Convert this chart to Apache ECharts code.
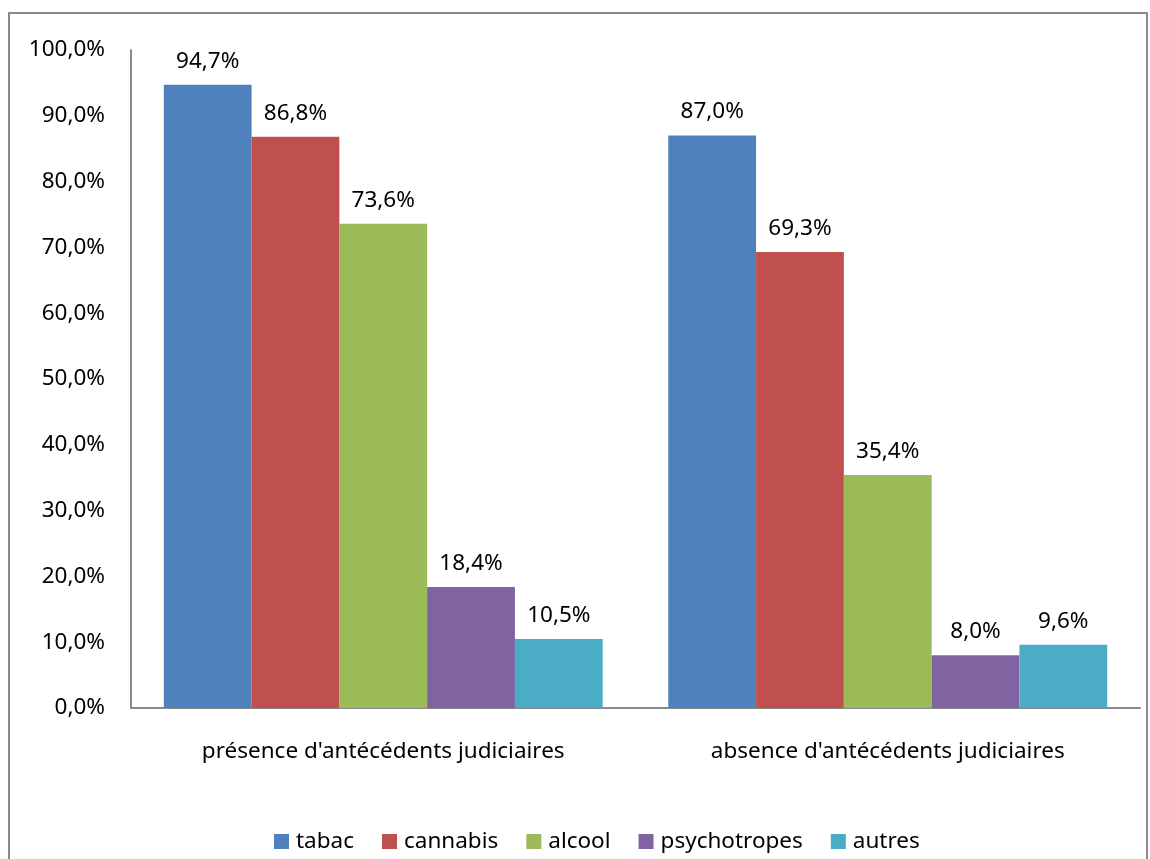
<!DOCTYPE html>
<html><head><meta charset="utf-8">
<script src="https://cdn.jsdelivr.net/npm/echarts@6/dist/echarts.min.js"></script>
<style>html,body{margin:0;padding:0;background:#fff}#c{width:1150px;height:859px}</style>
</head><body><div id="c"></div>
<script>
const categories = ["présence d'antécédents judiciaires", "absence d'antécédents judiciaires"];
const seriesNames = ["tabac", "cannabis", "alcool", "psychotropes", "autres"];
const tabac = [94.7, 87.0];
const cannabis = [86.8, 69.3];
const alcool = [73.6, 35.4];
const psychotropes = [18.4, 8.0];
const autres = [10.5, 9.6];
const colors = ["#4F81BD", "#C0504D", "#9BBB59", "#8064A2", "#4BACC6"];
const values = [tabac, cannabis, alcool, psychotropes, autres];
const FONT = "'Noto Sans', sans-serif";
const FS = 22.5;
const fmt = v => v.toFixed(1).replace('.', ',') + '%';
const chart = echarts.init(document.getElementById('c'));
chart.setOption({
  animation: false,
  textStyle: {fontFamily: FONT},
  graphic: [{type: 'rect', shape: {x: 9, y: 13, width: 1138, height: 900},
    style: {fill: 'none', stroke: '#8a8a8a', lineWidth: 2}, silent: true}],
  grid: {left: 131, right: 10, top: 50, bottom: 151},
  legend: {bottom: 1, left: 269, itemWidth: 15, itemHeight: 15, itemGap: 28,
    icon: 'rect', textStyle: {fontSize: FS, color: '#000', fontFamily: FONT, padding: [0, 0, 0, 2]},
    data: seriesNames},
  xAxis: {type: 'category', data: categories,
    axisLine: {lineStyle: {color: '#8a8a8a', width: 2}},
    axisTick: {show: false},
    axisLabel: {fontSize: FS, color: '#000', margin: 32, fontFamily: FONT}},
  yAxis: {type: 'value', min: 0, max: 100, interval: 10,
    splitLine: {show: false},
    axisLine: {show: true, lineStyle: {color: '#8a8a8a', width: 2}},
    axisTick: {show: false},
    axisLabel: {fontSize: FS, color: '#000', margin: 26, fontFamily: FONT,
      formatter: v => v.toFixed(1).replace('.', ',') + '%'}},
  series: seriesNames.map((n, i) => ({
    name: n, type: 'bar', data: values[i], barGap: '0%', barCategoryGap: '13%',
    itemStyle: {color: colors[i]},
    label: {show: true, position: 'top', distance: 12, fontSize: FS, color: '#000',
      fontFamily: FONT, formatter: p => fmt(p.value)}
  }))
});
</script></body></html>
